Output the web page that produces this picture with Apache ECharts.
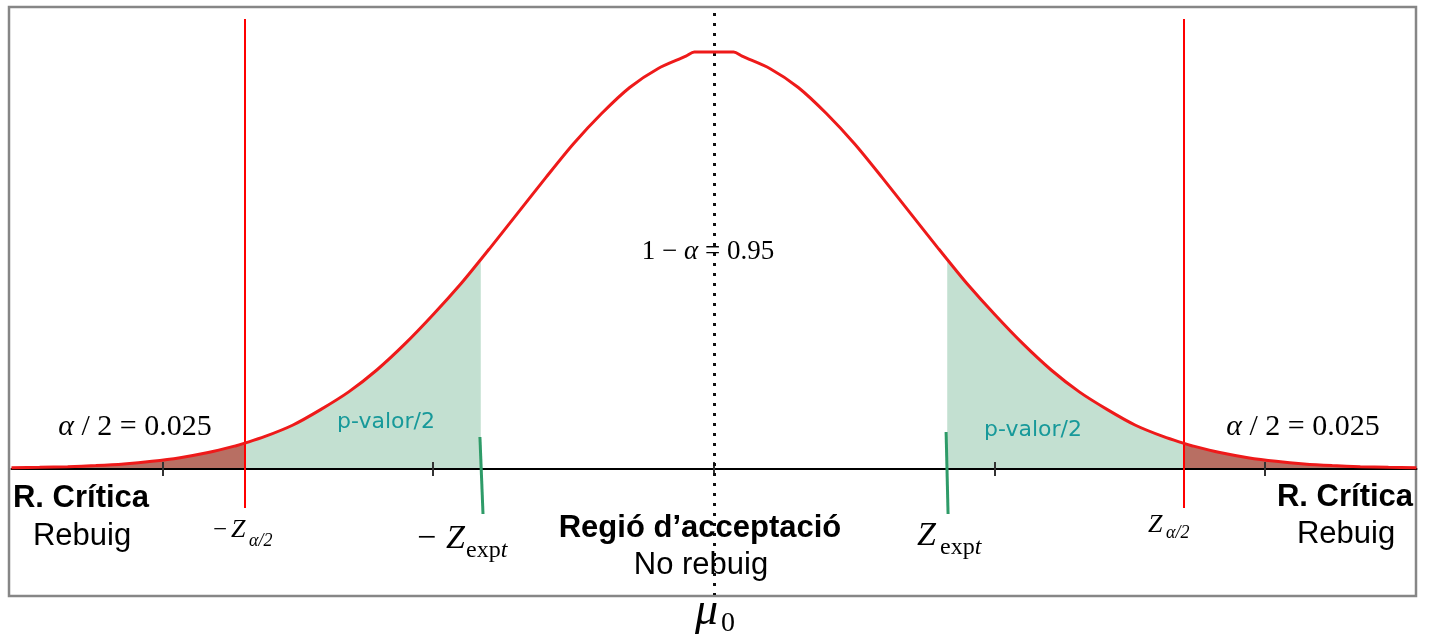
<!DOCTYPE html>
<html>
<head>
<meta charset="utf-8">
<script src="https://cdn.jsdelivr.net/npm/echarts@6/dist/echarts.min.js"></script>
<style>
  html, body { margin: 0; padding: 0; background: #fff; }
  #chart { width: 1432px; height: 638px; }
</style>
</head>
<body>
<div id="chart"></div>
<script>
// Standard-normal-shaped density of the test statistic under H0 (x in axis units)
const curveX = [-2.5, -2.4, -2.3, -2.2, -2.1, -2.0, -1.9, -1.8, -1.7, -1.67, -1.6, -1.5, -1.4, -1.3,
  -1.2, -1.1, -1.0, -0.9, -0.83, -0.8, -0.7, -0.6, -0.5, -0.4, -0.3, -0.2, -0.1, -0.07, 0,
  0.07, 0.1, 0.2, 0.3, 0.4, 0.5, 0.6, 0.7, 0.8, 0.83, 0.9, 1.0, 1.1, 1.2, 1.3, 1.4, 1.5, 1.6,
  1.67, 1.7, 1.8, 1.9, 2.0, 2.1, 2.2, 2.3, 2.4, 2.5];
const curveY = [0.0012, 0.0016, 0.0022, 0.0033, 0.0049, 0.0074, 0.0109, 0.0158, 0.0224, 0.0248,
  0.031, 0.042, 0.057, 0.074, 0.095, 0.120, 0.148, 0.178, 0.201, 0.211, 0.245, 0.279, 0.312,
  0.341, 0.366, 0.384, 0.396, 0.400, 0.400,
  0.400, 0.396, 0.384, 0.366, 0.341, 0.312, 0.279, 0.245, 0.211, 0.201, 0.178, 0.148, 0.120,
  0.095, 0.074, 0.057, 0.042, 0.031, 0.0248, 0.0224, 0.0158, 0.0109, 0.0074, 0.0049, 0.0033,
  0.0022, 0.0016, 0.0012];

// Critical value (alpha/2 = 0.025 per tail) and observed statistic
const criticalZ = 1.67;
const observedZ = 0.83;
const tickValues = [-1.96, -1.67, -1, 0, 1, 1.67, 1.96];

const xMin = -2.5, xMax = 2.5;
const yMin = -0.1218, yMax = 0.4432;

const points = curveX.map((x, i) => [x, curveY[i]]);
const between = (a, b) => points.filter(p => p[0] >= a - 1e-9 && p[0] <= b + 1e-9);

const RED = '#ee1a1a';
const GREEN_FILL = '#c3e0d1';
const BROWN_FILL = '#b86f63';
const MARK_GREEN = '#2e9b68';
const TEAL = '#17999a';
const SERIF = '"Liberation Serif", "Times New Roman", serif';
const SANS = '"Liberation Sans", Arial, sans-serif';

function areaSeries(data, color) {
  return {
    type: 'line', data, smooth: 0.3, symbol: 'none', silent: true, z: 1,
    lineStyle: { width: 0 },
    areaStyle: { color, opacity: 1 }
  };
}

const chart = echarts.init(document.getElementById('chart'), null, { renderer: 'canvas' });

function seg(x1, y1, x2, y2, style) {
  return [{ coord: [x1, y1], lineStyle: style }, { coord: [x2, y2] }];
}

function txt(text, x, y, font, opts = {}) {
  return {
    type: 'text', silent: true, z: 10,
    style: Object.assign({
      text, x, y, font, fill: '#000',
      align: 'center', verticalAlign: 'middle',
      textAlign: 'center', textVerticalAlign: 'middle'
    }, opts)
  };
}

const leftAlign = { align: 'left', textAlign: 'left' };
const mathRich = size => ({ a: { fontStyle: 'italic', fontFamily: 'Liberation Serif', fontSize: size },
  n: { fontFamily: 'Liberation Serif', fontSize: size } });

const option = {
  animation: false,
  backgroundColor: '#fff',
  grid: { left: 11.5, right: 15.5, top: 7, bottom: 42 },
  xAxis: [
    {
      type: 'value', min: xMin, max: xMax, position: 'bottom', z: 4,
      axisLine: { show: true, onZero: true, lineStyle: { color: '#000', width: 2 } },
      axisTick: { show: true, customValues: tickValues, length: 7, lineStyle: { color: '#333', width: 2 } },
      axisLabel: { show: false }, splitLine: { show: false }
    },
    {
      // upper half of the tick marks, placed on the same baseline
      type: 'value', min: xMin, max: xMax, position: 'bottom', offset: -127, z: 4,
      axisLine: { show: false, onZero: false },
      axisTick: { show: true, inside: true, customValues: tickValues, length: 7, lineStyle: { color: '#333', width: 2 } },
      axisLabel: { show: false }, splitLine: { show: false }
    }
  ],
  yAxis: { type: 'value', min: yMin, max: yMax, show: false, splitLine: { show: false } },
  series: [
    areaSeries(between(xMin, -criticalZ), BROWN_FILL),
    areaSeries(between(-criticalZ, -observedZ), GREEN_FILL),
    areaSeries(between(observedZ, criticalZ), GREEN_FILL),
    areaSeries(between(criticalZ, xMax), BROWN_FILL),
    {
      type: 'line', data: points, smooth: 0.3, symbol: 'none', silent: true, z: 5,
      lineStyle: { color: RED, width: 3 },
      markLine: {
        silent: true, symbol: ['none', 'none'], label: { show: false },
        data: [
          seg(-criticalZ, 0.4317, -criticalZ, -0.0374, { color: '#ff0000', width: 2, type: 'solid' }),
          seg(criticalZ, 0.4317, criticalZ, -0.0374, { color: '#ff0000', width: 2, type: 'solid' }),
          seg(0, 0.4374, 0, -0.1209, { color: '#111', width: 3, type: [3, 7] }),
          seg(-observedZ - 0.003, 0.0307, -observedZ + 0.008, -0.0432, { color: MARK_GREEN, width: 3, type: 'solid' }),
          seg(observedZ - 0.004, 0.0355, observedZ + 0.003, -0.0432, { color: MARK_GREEN, width: 3, type: 'solid' })
        ]
      }
    }
  ],
  graphic: [
    {
      type: 'rect', silent: true, z: 0,
      shape: { x: 9, y: 7, width: 1407, height: 589 },
      style: { fill: null, stroke: '#868686', lineWidth: 2.5 }
    },
    // tail probabilities
    txt('{a|α}{n| / 2 = 0.025}', 135, 427, '30px ' + SERIF, { rich: mathRich(30) }),
    txt('{a|α}{n| / 2 = 0.025}', 1303, 427, '30px ' + SERIF, { rich: mathRich(30) }),
    txt('{n|1 − }{a|α}{n| = 0.95}', 708, 252, '27px ' + SERIF, { rich: mathRich(27) }),
    // p-value halves
    txt('p-valor/2', 386, 422.5, '22px "DejaVu Sans", sans-serif', { fill: TEAL }),
    txt('p-valor/2', 1033, 430.5, '22px "DejaVu Sans", sans-serif', { fill: TEAL }),
    // regions
    txt('R. Crítica', 81, 498.5, 'bold 31px ' + SANS),
    txt('Rebuig', 82, 536.5, '31px ' + SANS),
    txt('R. Crítica', 1345, 497.5, 'bold 31px ' + SANS),
    txt('Rebuig', 1346, 534.5, '31px ' + SANS),
    txt('Regió d’acceptació', 700, 528.5, 'bold 31px ' + SANS),
    txt('No rebuig', 701, 565.5, '31px ' + SANS),
    // -Z alpha/2 and Z alpha/2
    txt('−', 213, 530, '25px ' + SERIF, leftAlign),
    txt('Z', 231, 530, 'italic 26px ' + SERIF, leftAlign),
    txt('α/2', 249, 541, 'italic 18px ' + SERIF, leftAlign),
    txt('Z', 1148, 525, 'italic 26px ' + SERIF, leftAlign),
    txt('α/2', 1166, 533, 'italic 18px ' + SERIF, leftAlign),
    // -Z expt and Z expt
    txt('−', 417, 539, '34px ' + SERIF, leftAlign),
    txt('Z', 446, 539, 'italic 34px ' + SERIF, leftAlign),
    txt('{n|exp}{a|t}', 466, 551, '24px ' + SERIF, Object.assign({ rich: mathRich(24) }, leftAlign)),
    txt('Z', 917, 536, 'italic 34px ' + SERIF, leftAlign),
    txt('{n|exp}{a|t}', 940, 548, '24px ' + SERIF, Object.assign({ rich: mathRich(24) }, leftAlign)),
    // mu_0
    txt('μ', 695, 612, 'italic 46px ' + SERIF, leftAlign),
    txt('0', 721, 624, '28px ' + SERIF, leftAlign)
  ]
};

chart.setOption(option);
</script>
</body>
</html>
